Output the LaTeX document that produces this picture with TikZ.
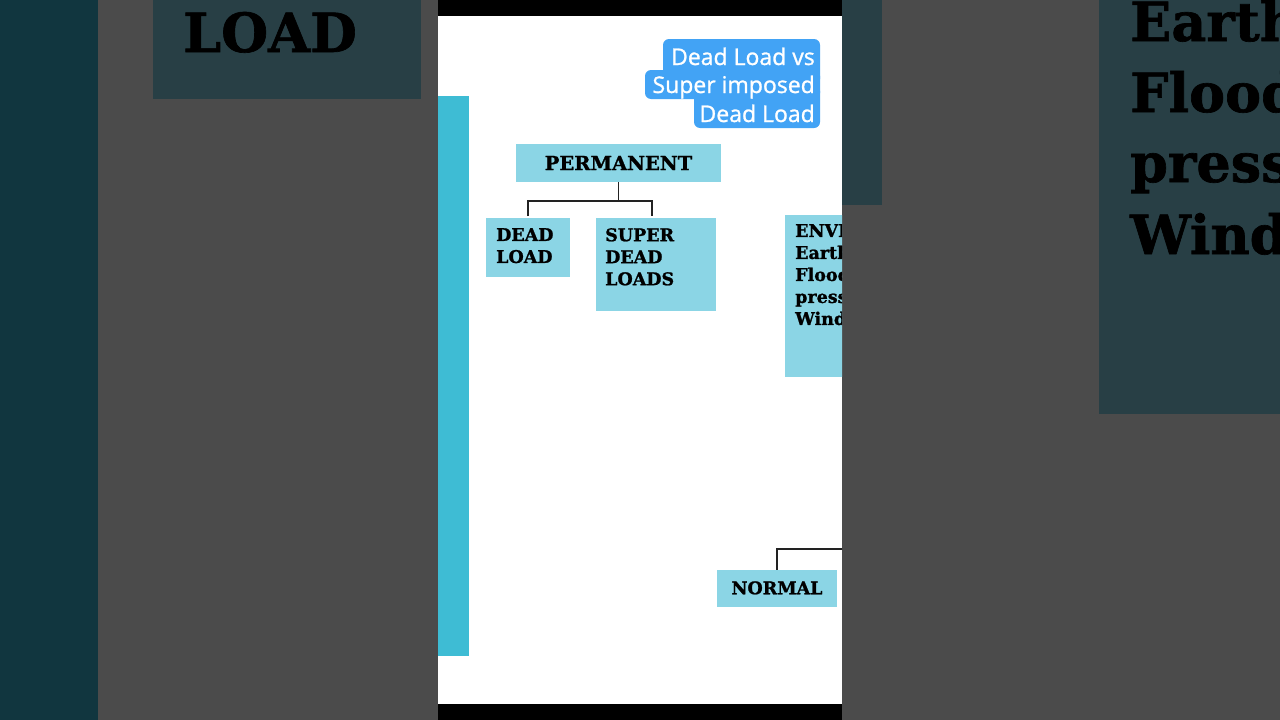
\documentclass[tikz,border=0pt]{standalone}
\usepackage{fontspec}
\newfontfamily\titlefont[BoldFont={Open Sans},BoldFeatures={FakeBold=1.1}]{Open Sans}
\newfontfamily\heavyfont[BoldFeatures={FakeBold=1.2}]{DejaVu Serif}
\usetikzlibrary{calc}
\definecolor{bggray}{HTML}{4B4B4B}
\definecolor{darkteal}{HTML}{11363F}
\definecolor{blurbox}{HTML}{283F45}
\definecolor{tealbar}{HTML}{3EBCD4}
\definecolor{lightbox}{HTML}{8BD5E5}
\definecolor{badge}{HTML}{42A3F5}
\definecolor{linecol}{HTML}{222222}
\begin{document}
\begin{tikzpicture}[x=1pt,y=-1pt,
  box/.style={rectangle, fill=lightbox, inner sep=0pt, anchor=north west},
  lbl/.style={inner sep=0pt, anchor=north west, align=left, font=\heavyfont\bfseries\fontsize{17.5}{22}\selectfont},
  bigtxt/.style={inner sep=0pt, anchor=base west, text=black, font=\heavyfont\bfseries\fontsize{54}{70}\selectfont},
  conn/.style={draw=linecol, line width=1.5pt},
  badgepart/.style={fill=badge, rounded corners=6pt},
  ttl/.style={inner sep=0pt, anchor=base east, text=white, font=\titlefont\bfseries\fontsize{23}{28}\selectfont}
]
\useasboundingbox (0,0) rectangle (1280,720);
% blurred side background
\fill[bggray] (0,0) rectangle (1280,720);
\fill[darkteal] (0,0) rectangle (98,720);
\fill[blurbox] (153,0) rectangle (421,99);
\node[bigtxt] (bl) at (183,52) {LOAD};
\begin{scope}
  \clip (842,0) rectangle (1280,720);
  \fill[blurbox] (842,0) rectangle (882,205);
  \fill[blurbox] (1099,0) rectangle (1280,414);
  \node[bigtxt] (be) at (1130,41) {Earth};
  \node[bigtxt] (bf) at (1130,112) {Flood};
  \node[bigtxt] (bp) at (1130,182) {press};
  \node[bigtxt] (bw) at (1130,254) {Wind};
\end{scope}
% central frame
\begin{scope}
  \clip (438,0) rectangle (842,720);
  \fill[white] (438,0) rectangle (842,720);
  \fill[black] (438,0) rectangle (842,16);
  \fill[black] (438,704) rectangle (842,720);
  \fill[tealbar] (438,96) rectangle (469,656);
  % title badge
  \fill[badgepart] (663,39) rectangle (820,85);
  \fill[badgepart] (645,70) rectangle (820,99);
  \fill[badgepart] (694,85) rectangle (820,128);
  \node[ttl] (t1) at (815,65) {Dead Load vs};
  \node[ttl] (t2) at (815,93) {Super imposed};
  \node[ttl] (t3) at (815,122) {Dead Load};
  % boxes
  \node[box, anchor=center, minimum width=205pt, minimum height=38pt,
        font=\heavyfont\bfseries\fontsize{19.5}{22}\selectfont] (perm) at (618.5,163) {PERMANENT};
  \node[box, minimum width=84pt, minimum height=59pt] (dl) at (486,218) {};
  \node[lbl] (dlt) at (496,228) {DEAD\\LOAD};
  \node[box, minimum width=120pt, minimum height=93pt] (sdl) at (596,218) {};
  \node[lbl] (sdlt) at (605,228) {SUPER\\DEAD\\LOADS};
  \node[box, minimum width=100pt, minimum height=162pt] (env) at (785,215) {};
  \node[lbl] (envt) at (795,224) {ENVI\\Earth\\Flood\\press\\Wind};
  \node[box, anchor=center, minimum width=120pt, minimum height=37pt,
        font=\heavyfont\bfseries\fontsize{17.5}{22}\selectfont] (norm) at (777,588.5) {\raisebox{1.5pt}{NORMAL}};
  % connectors
  \draw[conn] (perm.south) -- ($(perm.south)+(0,18)$);
  \draw[conn] ($(dl.north)+(0,-2)$) |- ($(sdl.north west)+(56,-17)$) -- ($(sdl.north west)+(56,-2)$);
  \coordinate (nr) at (860,549);
  \draw[conn] (norm.north) |- (nr);
\end{scope}
\end{tikzpicture}
\end{document}
